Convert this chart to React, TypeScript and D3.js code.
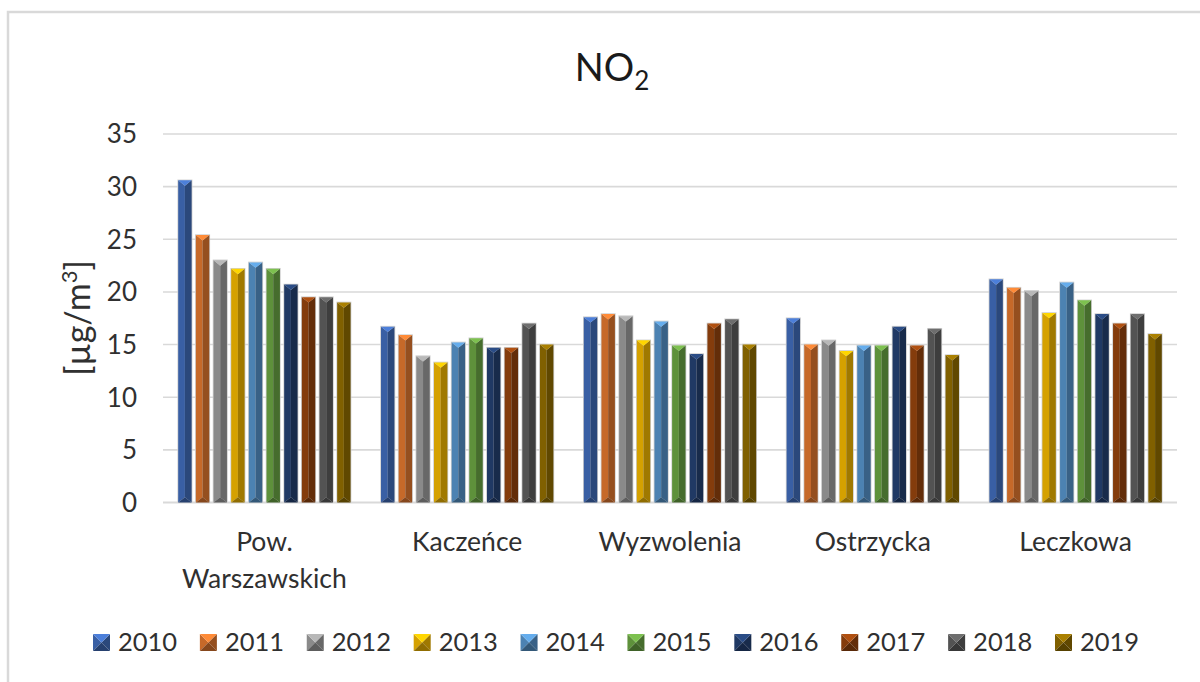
import React, { useRef, useEffect } from 'react';
import * as d3 from 'd3';

// stations (x categories) and years (series)
const categories: string[] = ["Pow. Warszawskich", "Kaczeńce", "Wyzwolenia", "Ostrzycka", "Leczkowa"];
const years: string[] = ["2010", "2011", "2012", "2013", "2014", "2015", "2016", "2017", "2018", "2019"];

// NO2 annual means [µg/m3], one array per year, in category order
const y2010 = [30.6, 16.7, 17.6, 17.5, 21.2];
const y2011 = [25.4, 15.9, 17.9, 15.0, 20.4];
const y2012 = [23.0, 13.9, 17.7, 15.4, 20.1];
const y2013 = [22.2, 13.3, 15.4, 14.4, 18.0];
const y2014 = [22.8, 15.2, 17.2, 14.9, 20.9];
const y2015 = [22.2, 15.6, 14.9, 14.9, 19.2];
const y2016 = [20.7, 14.7, 14.1, 16.7, 17.9];
const y2017 = [19.5, 14.7, 17.0, 14.9, 17.0];
const y2018 = [19.5, 17.0, 17.4, 16.5, 17.9];
const y2019 = [19.0, 15.0, 15.0, 14.0, 16.0];
const seriesValues: number[][] = [y2010, y2011, y2012, y2013, y2014, y2015, y2016, y2017, y2018, y2019];

const yTicks: number[] = [0, 5, 10, 15, 20, 25, 30, 35];

const colors: string[] = [
    "#4472C4", "#ED7D31", "#A5A5A5", "#FFC000", "#5B9BD5",
    "#70AD47", "#264478", "#9E480E", "#636363", "#997300"
];

const FONT = "Lato, 'Open Sans', sans-serif";
const TEXT = "#303030";

// bevelled bar: four faces meeting at a ridge, like Excel's "angle" bevel
const faces = (x: number, y: number, w: number, h: number, d: number) => {
    const m = x + w / 2;
    const dd = Math.min(d, h / 2);
    return [
        { k: "left", p: [[x, y], [m, y + dd], [m, y + h - dd], [x, y + h]] },
        { k: "right", p: [[x + w, y], [x + w, y + h], [m, y + h - dd], [m, y + dd]] },
        { k: "top", p: [[x, y], [x + w, y], [m, y + dd]] },
        { k: "bottom", p: [[x, y + h], [m, y + h - dd], [x + w, y + h]] }
    ];
};

const shade = (c: string, k: string) => {
    const col = d3.color(c)!;
    if (k === "left") return col.darker(0.5).formatHex();
    if (k === "right") return col.darker(1.3).formatHex();
    if (k === "top") return col.brighter(0.3).formatHex();
    return col.darker(1.6).formatHex();
};

const App = () => {
    const ref = useRef<SVGSVGElement>(null);

    useEffect(() => {
        const width = 1200;
        const height = 682;
        const margin = { top: 134, right: 23, bottom: 179.5, left: 163 };

        const svg = d3.select(ref.current);
        svg.selectAll("*").remove();

        // chart border (right and bottom edges fall outside the picture)
        svg.append("rect")
            .attr("x", 8).attr("y", 12)
            .attr("width", 1250).attr("height", 700)
            .attr("fill", "white")
            .attr("stroke", "#D9D9D9")
            .attr("stroke-width", 2.5);

        const x0 = d3.scaleBand<string>()
            .domain(categories)
            .range([margin.left, width - margin.right])
            .paddingInner(0.15)
            .paddingOuter(0.075);

        const x1 = d3.scaleBand<string>()
            .domain(years)
            .range([0, x0.bandwidth()])
            .paddingInner(0.24)
            .paddingOuter(0);

        const y = d3.scaleLinear()
            .domain([0, 35])
            .range([height - margin.bottom, margin.top]);

        // gridlines
        svg.append("g")
            .selectAll("line")
            .data(yTicks)
            .enter().append("line")
            .attr("x1", margin.left)
            .attr("x2", width - margin.right)
            .attr("y1", d => y(d))
            .attr("y2", d => y(d))
            .attr("stroke", "#D9D9D9")
            .attr("stroke-width", d => d === 0 ? 2 : 1.6);

        // tick labels
        svg.append("g")
            .selectAll("text")
            .data(yTicks)
            .enter().append("text")
            .attr("x", 137)
            .attr("y", d => y(d))
            .attr("dy", "0.36em")
            .attr("text-anchor", "end")
            .attr("font-family", FONT)
            .attr("font-size", 26)
            .attr("fill", TEXT)
            .text(d => d);

        // bars
        const bars = svg.append("g");
        seriesValues.forEach((vals, si) => {
            vals.forEach((v, ci) => {
                const bx = x0(categories[ci])! + x1(years[si])!;
                const bw = x1.bandwidth();
                const by = y(v);
                const bh = y(0) - y(v);
                const g = bars.append("g");
                g.append("rect")
                    .attr("x", bx - 0.8).attr("y", by - 0.8)
                    .attr("width", bw + 1.6).attr("height", bh + 0.8)
                    .attr("fill", "#D0D0D0");
                faces(bx, by, bw, bh, bw * 0.4).forEach(f => {
                    g.append("polygon")
                        .attr("points", f.p.map(p => p.join(",")).join(" "))
                        .attr("fill", shade(colors[si], f.k));
                });
            });
        });

        // category labels, wrapped to the band width
        const catG = svg.append("g")
            .attr("font-family", FONT)
            .attr("font-size", 26.5)
            .attr("fill", TEXT)
            .attr("text-anchor", "middle");
        categories.forEach(c => {
            const cx = x0(c)! + x0.bandwidth() / 2;
            const t = catG.append("text").attr("x", cx).attr("y", 551);
            const probe = t.text(c);
            const len = (probe.node() as SVGTextElement).getComputedTextLength();
            if (len > x0.bandwidth()) {
                t.text(null);
                c.split(" ").forEach((word, i) => {
                    t.append("tspan").attr("x", cx).attr("dy", i === 0 ? 0 : 37).text(word);
                });
            }
        });

        // title
        const title = svg.append("text")
            .attr("x", 612)
            .attr("y", 81)
            .attr("text-anchor", "middle")
            .attr("font-family", FONT)
            .attr("font-size", 38)
            .attr("fill", "#1a1a1a");
        title.append("tspan").text("NO");
        title.append("tspan").attr("dy", 9).attr("font-size", 26).text("2");

        // y axis title
        const yl = svg.append("text")
            .attr("transform", "translate(90,318) rotate(-90)")
            .attr("text-anchor", "middle")
            .attr("font-family", FONT)
            .attr("font-size", 34)
            .attr("fill", TEXT);
        yl.append("tspan").text("[µg/m");
        yl.append("tspan").attr("dy", -13).attr("font-size", 22).text("3");
        yl.append("tspan").attr("dy", 13).text("]");

        // legend
        const lx = d3.scalePoint<string>()
            .domain(years)
            .range([93, 1055]);
        const sq = 17;
        const leg = svg.append("g");
        years.forEach((yr, i) => {
            const g = leg.append("g");
            faces(lx(yr)!, 634, sq, sq, sq / 2).forEach(f => {
                g.append("polygon")
                    .attr("points", f.p.map(p => p.join(",")).join(" "))
                    .attr("fill", shade(colors[i], f.k));
            });
            g.append("text")
                .attr("x", lx(yr)! + sq + 8)
                .attr("y", 651)
                .attr("font-family", FONT)
                .attr("font-size", 25.5)
                .attr("fill", TEXT)
                .text(yr);
        });
    }, []);

    return (
        <svg ref={ref} width={1200} height={682}
            style={{ position: "absolute", left: 0, top: 0, background: "white" }}></svg>
    );
};

export default App;
